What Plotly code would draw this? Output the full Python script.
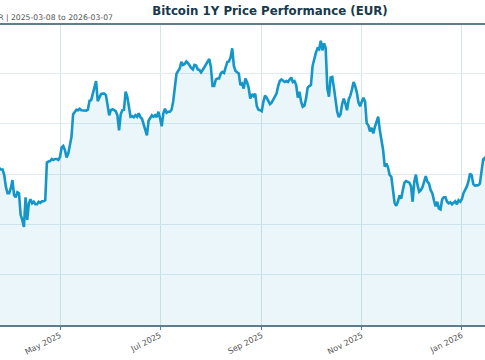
import pandas as pd
import plotly.graph_objects as go

START_DATE = "2025-03-08"
END_DATE = "2026-03-07"
TITLE = "Bitcoin 1Y Price Performance (EUR)"
SUBTITLE = "Price in EUR | 2025-03-08 to 2026-03-07"

# daily close in thousand EUR, starting 2025-03-08
prices_k = [
    79.5, 78.8, 74.5, 75.5, 76.0, 74.5, 77.0, 77.5, 77.3, 77.0, 76.8, 79.5, 77.5, 77.8, 78.0, 79.0, 81.0, 81.2,
    80.9, 80.9, 79.8, 77.5, 76.2, 76.2, 77.2, 78.8, 75.8, 75.4, 76.4, 76.2, 71.9, 70.9, 69.5, 75.4, 70.9, 74.2,
    75.0, 74.2, 74.5, 74.0, 74.0, 74.5, 74.3, 74.6, 74.6, 74.8, 82.3, 82.5, 82.6, 83.0, 82.8, 83.0, 83.0, 82.8,
    83.4, 85.3, 85.6, 84.8, 83.3, 84.0, 85.4, 87.4, 91.9, 92.4, 92.8, 92.7, 93.0, 92.7, 92.7, 92.7, 92.6, 92.8,
    94.6, 94.7, 96.0, 97.0, 98.5, 94.5, 95.4, 95.9, 96.0, 96.0, 95.7, 93.4, 91.7, 92.7, 92.9, 92.7, 92.5, 91.7,
    88.7, 91.9, 92.7, 92.8, 96.4, 95.4, 93.0, 91.4, 91.5, 91.3, 91.7, 91.4, 92.1, 91.3, 91.0, 89.7, 88.4, 87.7,
    90.6, 91.1, 91.7, 91.4, 91.7, 91.3, 92.4, 91.1, 89.5, 92.1, 93.0, 92.2, 92.4, 92.4, 92.8, 94.4, 97.4, 99.9,
    100.5, 101.0, 102.3, 101.7, 101.9, 102.4, 102.1, 101.5, 101.1, 100.8, 101.7, 101.6, 100.8, 100.7, 100.2, 100.7,
    101.3, 101.6, 102.3, 102.9, 101.3, 97.5, 97.5, 98.8, 99.0, 99.0, 100.0, 100.3, 100.1, 101.0, 102.3, 102.4,
    103.2, 105.0, 101.5, 100.5, 100.3, 100.0, 97.7, 98.0, 97.0, 99.0, 98.3, 97.2, 95.0, 95.9, 95.5, 96.0,
    93.5, 92.8, 92.7, 92.5, 94.4, 95.6, 95.2, 94.5, 93.9, 94.2, 94.8, 95.2, 96.0, 97.5, 98.5, 98.8,
    98.5, 98.3, 98.5, 98.3, 98.8, 99.2, 98.3, 98.5, 97.7, 95.2, 96.4, 94.4, 93.4, 93.6, 95.0, 97.2,
    97.5, 97.7, 101.5, 103.0, 104.1, 105.0, 104.8, 106.5, 104.6, 106.0, 105.0, 97.0, 95.4, 99.2, 99.3, 97.2,
    94.4, 92.4, 91.3, 91.9, 93.9, 95.0, 94.0, 92.7, 94.8, 95.6, 96.8, 98.3, 97.5, 96.2, 94.2, 93.5,
    94.4, 95.2, 94.4, 90.1, 89.7, 88.5, 89.2, 88.1, 89.4, 90.6, 91.4, 88.7, 86.8, 84.8, 81.5, 82.1,
    81.3, 79.8, 79.5, 76.5, 74.3, 73.7, 74.5, 75.8, 75.1, 76.8, 78.3, 78.6, 78.5, 78.3, 77.6, 74.5,
    78.5, 79.9, 77.8, 76.5, 76.8, 77.4, 78.5, 79.6, 78.5, 78.1, 76.8, 76.2, 74.8, 73.6, 74.5, 73.2,
    73.0, 75.0, 75.4, 75.4, 74.5, 74.2, 74.4, 74.0, 74.3, 74.6, 74.0, 74.8, 74.5, 75.0, 76.2, 76.8,
    77.5, 78.5, 80.1, 79.8, 78.0, 77.7, 77.7, 77.8, 78.1, 80.7, 82.9, 83.2,
    82.5, 81.0, 80.5, 79.0, 78.5, 77.5, 76.8, 77.2, 76.5, 75.8, 76.0, 75.5, 74.0, 72.5, 71.8, 70.5,
    67.0, 66.5, 65.0, 63.5, 62.0, 58.5, 60.5, 60.0, 59.2, 58.8, 59.5, 58.0, 57.5, 58.2, 57.8, 58.5,
    57.0, 56.5, 57.2, 58.0, 57.6, 56.8, 56.0, 56.5, 57.5, 58.2, 59.0, 58.6, 57.8, 58.5, 59.5, 60.2,
    59.8, 59.0, 58.5,
]
prices = [p * 1000 for p in prices_k]
dates = pd.date_range(start=START_DATE, periods=len(prices), freq="D")

# visible window of the chart
X_RANGE = ["2025-03-25 10:00", "2026-01-15 03:00"]
Y_RANGE = [50000, 109640]
Y_TICKS = [50000, 60000, 70000, 80000, 90000, 100000]
X_TICKS = ["2025-05-01", "2025-07-01", "2025-09-01", "2025-11-01", "2026-01-01"]
X_TICK_LABELS = ["May 2025", "Jul 2025", "Sep 2025", "Nov 2025", "Jan 2026"]

W, H = 485, 360
fig = go.Figure()
fig.add_trace(go.Scatter(
    x=dates, y=prices, mode="lines",
    line=dict(color="#1596c9", width=2.6),
    fill="tozeroy", fillcolor="rgba(21,150,201,0.09)",
    hoverinfo="skip",
))

fig.update_layout(
    width=W, height=H,
    margin=dict(l=0, r=0, t=25, b=35),
    paper_bgcolor="white", plot_bgcolor="white",
    showlegend=False,
    font=dict(family="DejaVu Sans", color="#444"),
    title=dict(
        text="<b>" + TITLE + "</b>",
        x=270 / W, xanchor="center", xref="container",
        y=1 - 11 / H, yanchor="middle", yref="container",
        font=dict(family="DejaVu Sans", size=11.8, color="#17394b"),
    ),
    xaxis=dict(
        range=X_RANGE, tickvals=X_TICKS, ticktext=X_TICK_LABELS,
        tickangle=-27, tickfont=dict(size=8, color="#555"),
        ticks="outside", ticklen=3, tickcolor="#5f7d8c",
        ticklabelstandoff=-2,
        showgrid=True, gridcolor="#d7e5eb", gridwidth=1,
        showline=True, linecolor="#5f7d8c", linewidth=1.5, mirror=True,
        zeroline=False,
    ),
    yaxis=dict(
        range=Y_RANGE, tickvals=Y_TICKS, showticklabels=False,
        showgrid=True, gridcolor="#e1ecf1", gridwidth=1.2,
        showline=False, zeroline=False,
    ),
)
fig.add_annotation(
    text=SUBTITLE, xref="paper", yref="paper",
    x=115 / W, y=(H - 18 - 35) / (H - 25 - 35),
    xanchor="right", yanchor="middle", showarrow=False,
    font=dict(family="DejaVu Sans", size=7.7, color="#555"),
)
fig.write_html(
    "out.html",
    config={"displayModeBar": False},
    post_script="document.body.style.margin='0';document.body.style.overflow='hidden';",
)
